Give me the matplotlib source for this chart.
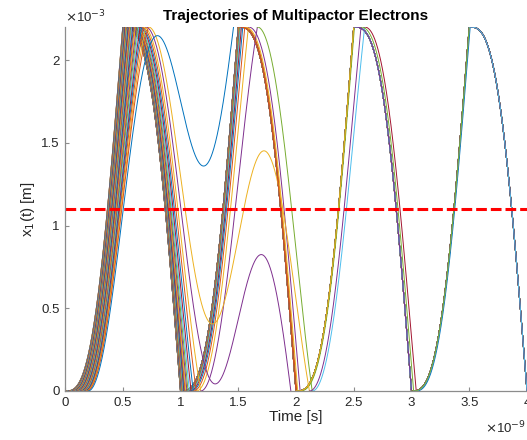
import numpy as np
import matplotlib.pyplot as plt

plt.rcParams['font.family'] = ['Liberation Sans', 'DejaVu Sans']

# parametros del gap y del campo RF
gap = 2.2e-3          # separacion entre placas [m]
periodo = 1e-9        # periodo del campo [s]
t_fin = 4e-9          # tiempo simulado [s]
umbral = 1.1e-3       # linea roja (mitad del gap) [m]

# tiempos de emision de los electrones desde la placa inferior [ns]
emision_ns = [0.000, 0.005, 0.010, 0.015, 0.020, 0.025, 0.030, 0.035, 0.040,
              0.045, 0.050, 0.055, 0.060, 0.065, 0.070, 0.075, 0.080, 0.085,
              0.090, 0.095, 0.100, 0.105, 0.110, 0.115, 0.120, 0.125, 0.130,
              0.135, 0.140, 0.145, 0.150, 0.155, 0.160, 0.165, 0.170, 0.175,
              0.180, 0.1855, 0.1903, 0.200]

# orden de colores por defecto de MATLAB
colores = ['#0072BD', '#D95319', '#EDB120', '#7E2F8E', '#77AC30', '#4DBEEE', '#A2142F']

w = 2*np.pi/periodo
acel = gap*w**2/np.pi     # fase cero cruza el gap en medio periodo
dt = 1e-13


def tramo(t0, x0):
    """trayectoria desde una placa con velocidad cero hasta tocar una placa"""
    t = np.arange(t0, t_fin + dt, dt)
    x = x0 + (acel/w**2)*(w*(t - t0)*np.cos(w*t0) - np.sin(w*t) + np.sin(w*t0))
    fuera = np.where((x > gap) | (x < -1e-10))[0]
    fuera = fuera[fuera > 0]
    if len(fuera) == 0:
        return t, x, None, None
    i = fuera[0]
    pared = gap if x[i] > gap else 0.0
    x = x[:i+1].copy()
    x[-1] = pared
    return t[:i+1], x, t[i], pared


def espera(t, pared):
    """tiempo en que el campo vuelve a sacar al electron de la placa"""
    s = np.sin(w*t)
    if pared == 0.0 and s < 0:
        return np.ceil(t/periodo)*periodo
    if pared == gap and s > 0:
        return (np.ceil(t/periodo - 0.5) + 0.5)*periodo
    return t


fig = plt.figure(figsize=(5.27, 4.40), dpi=100)
ax = fig.add_axes([0.1233, 0.1114, 0.8767, 0.8272])

k = 0
for te in emision_ns:
    t0, x0 = te*1e-9, 0.0
    while t0 < t_fin:
        t, x, th, pared = tramo(t0, x0)
        ax.plot(t/1e-9, x/1e-3, color=colores[k % 7], lw=0.7)
        k += 1
        if th is None:
            break
        t0 = espera(th, pared)
        x0 = pared

ax.axhline(umbral/1e-3, color='red', ls=(0, (3.5, 1.3)), lw=2.2)

ax.set_xlim(0, t_fin/1e-9)
ax.set_ylim(0, gap/1e-3)
ax.set_xticks([0, 0.5, 1, 1.5, 2, 2.5, 3, 3.5, 4])
ax.set_yticks([0, 0.5, 1, 1.5, 2])
ax.set_xticklabels(['0', '0.5', '1', '1.5', '2', '2.5', '3', '3.5', '4'])
ax.set_yticklabels(['0', '0.5', '1', '1.5', '2'])
ax.tick_params(direction='in', length=3, width=0.8, color='#8c8c8c',
               labelsize=9.5, labelcolor='#262626', pad=4)
for lado in ['top', 'right']:
    ax.spines[lado].set_visible(False)
for lado in ['left', 'bottom']:
    ax.spines[lado].set_color('#8c8c8c')
    ax.spines[lado].set_linewidth(0.9)

ax.set_title('Trajectories of Multipactor Electrons', fontsize=11,
             fontweight='bold', pad=5)
ax.set_xlabel('Time [s]', fontsize=11, color='#262626', labelpad=1)
ax.set_ylabel('x$_1$(t) [m]', fontsize=11, color='#262626', labelpad=3)
fig.text(0.123, 0.962, r'$\times$10$^{-3}$', fontsize=9.5, color='#262626',
         va='center', ha='left')
fig.text(0.998, 0.028, r'$\times$10$^{-9}$', fontsize=9.5, color='#262626',
         va='center', ha='right')

fig.savefig('out.png', dpi=100)
